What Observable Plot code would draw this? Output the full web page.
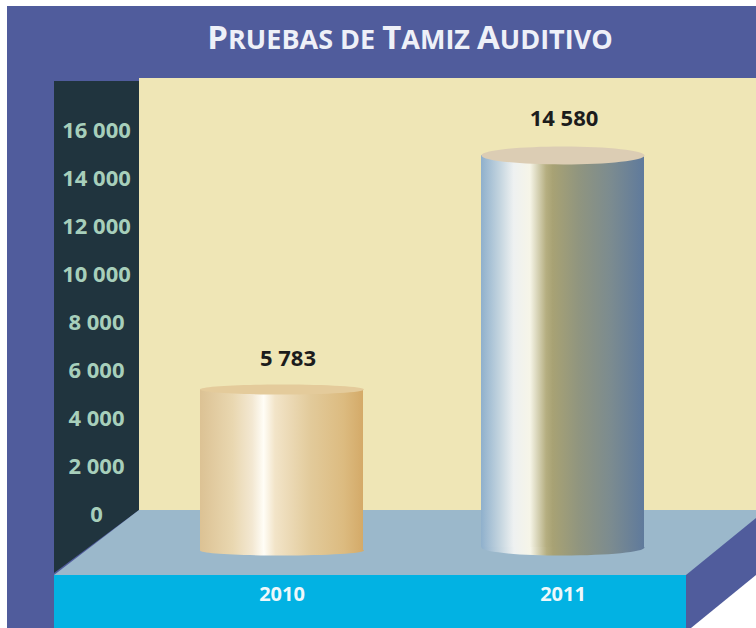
<!DOCTYPE html>
<html lang="es">
<head>
<meta charset="utf-8">
<script src="https://cdn.jsdelivr.net/npm/d3@7"></script>
<script src="https://cdn.jsdelivr.net/npm/@observablehq/plot@0.6"></script>
<style>
  html, body { margin: 0; padding: 0; background: #fff; }
  #chart { position: relative; width: 756px; height: 628px; overflow: hidden; background: #fff; }
  #chart .layer { position: absolute; inset: 0; }
  #chart svg { position: absolute; left: 0; top: 0; }
  .panel { background: #505c9c; clip-path: polygon(7px 6px, 756px 6px, 756px 575px, 691px 628px, 7px 628px); }
  .wall  { background: #efe6b6; clip-path: polygon(139px 78px, 756px 78px, 756px 512px, 139px 512px); }
  .side  { background: #20343e; clip-path: polygon(54px 81px, 139px 81px, 139px 510px, 54px 573px); }
  .floor { background: #9bb8cb; clip-path: polygon(139px 510px, 756px 510px, 756px 518px, 686px 575px, 54px 575px); }
  .front { background: #02b2e3; clip-path: polygon(54px 575px, 686px 575px, 686px 628px, 54px 628px); }
</style>
</head>
<body>
<div id="chart">
  <div class="layer panel"></div>
  <div class="layer wall"></div>
  <div class="layer side"></div>
  <div class="layer floor"></div>
  <div class="layer front"></div>
</div>
<script>
const chartTitle = "Pruebas de Tamiz Auditivo";
const years = ["2010", "2011"];
const values = [5783, 14580];
// Height of each cylinder's top and base as read against the drawn axis
const drawnTops = [5210, 14960];
const drawnBases = [-1500, -1380];
const labelLevels = [6500, 16500];
const yTicks = [0, 2000, 4000, 6000, 8000, 10000, 12000, 14000, 16000];

const fmt = d3.formatLocale({ thousands: " ", grouping: [3], decimal: "," }).format(",");
const font = "'Open Sans', sans-serif";

const gradients = {
  g2010: [[0, "#dcc294"], [0.2, "#e9d7b0"], [0.32, "#f3e8d2"], [0.39, "#fffdf6"], [0.46, "#f2e4c8"], [0.68, "#e2ca9a"], [0.88, "#dcbb80"], [1, "#d4aa68"]],
  g2011: [[0, "#8fb0cc"], [0.12, "#c6d6e0"], [0.2, "#eef1f1"], [0.3, "#f6f5e8"], [0.4, "#b5ae80"], [0.44, "#a8a274"], [0.6, "#90957f"], [0.8, "#7b8b90"], [1, "#5f7a9c"]]
};
const tops = { g2010: "#e4cb9b", g2011: "#dccdb4" };
const radii = { g2010: [82, 5], g2011: [81.5, 9] };
const bottomRadii = { g2010: [82, 5], g2011: [81.5, 8] };

function ellipse(rx, ry) {
  const k = 0.5523;
  return {
    draw(c) {
      c.moveTo(-rx, 0);
      c.bezierCurveTo(-rx, -k * ry, -k * rx, -ry, 0, -ry);
      c.bezierCurveTo(k * rx, -ry, rx, -k * ry, rx, 0);
      c.bezierCurveTo(rx, k * ry, k * rx, ry, 0, ry);
      c.bezierCurveTo(-k * rx, ry, -rx, k * ry, -rx, 0);
      c.closePath();
    }
  };
}

function defs() {
  const d = d3.create("svg:defs");
  for (const [id, stops] of Object.entries(gradients)) {
    const g = d.append("linearGradient").attr("id", id).attr("x1", 0).attr("x2", 1).attr("y1", 0).attr("y2", 0);
    for (const [o, c] of stops) g.append("stop").attr("offset", o).attr("stop-color", c);
  }
  return d.node();
}

// Small caps: capitals stay large, lower-case letters become smaller capitals
function smallCaps(index, scales, channels, dimensions, context, next) {
  const g = next(index, scales, channels, dimensions, context);
  d3.select(g).selectAll("text").each(function () {
    const el = d3.select(this);
    const runs = el.text().match(/[A-Z]+|[^A-Z]+/g);
    el.text(null);
    for (const run of runs) {
      const large = /^[A-Z]/.test(run);
      el.append("tspan").attr("font-size", large ? 33 : 27).text(run.toUpperCase());
    }
  });
  return g;
}

const rows = years.map((year, i) => ({
  year, value: values[i], top: drawnTops[i], base: drawnBases[i], level: labelLevels[i], grad: "g" + year
}));

const cylinderMarks = rows.flatMap((r) => [
  Plot.dot([r], { x: "year", y: "base", r: 1, symbol: ellipse(...bottomRadii[r.grad]), fill: `url(#${r.grad})` }),
  Plot.barY([r], { x: "year", y1: "base", y2: "top", fill: `url(#${r.grad})` }),
  Plot.dot([r], { x: "year", y: "top", r: 1, symbol: ellipse(...radii[r.grad]), fill: tops[r.grad] })
]);

const labelDx = { 2010: 6, 2011: 1 };
const labelMarks = rows.map((r) =>
  Plot.text([r], {
    x: "year", y: "level", text: (d) => fmt(d.value), dx: labelDx[r.year],
    fontFamily: font, fontWeight: 700, fontSize: 22, fill: "#1c1c1c"
  })
);

const plot = Plot.plot({
  width: 756,
  height: 628,
  marginLeft: 140,
  marginRight: 53,
  marginTop: 130,
  marginBottom: 114,
  style: { background: "transparent" },
  x: { type: "band", domain: years, paddingInner: 0.42, paddingOuter: 0.2117, label: null },
  y: { domain: [0, 16000], label: null },
  marks: [
    defs,
    ...cylinderMarks,
    ...labelMarks,
    Plot.axisY({
      anchor: "left", ticks: yTicks, tickFormat: fmt, tickSize: 0, tickPadding: 0, dx: -44,
      textAnchor: "middle", label: null, fontFamily: font, fontWeight: 700, fontSize: 22, fill: "#a7cfbb"
    }),
    Plot.axisX({
      anchor: "bottom", tickSize: 0, tickPadding: 0, dy: 80, label: null,
      fontFamily: font, fontWeight: 700, fontSize: 20, fill: "#eef8fb", lineAnchor: "middle"
    }),
    Plot.text([chartTitle], {
      frameAnchor: "top", dx: -12, dy: -90, lineAnchor: "middle", text: (d) => d,
      fontFamily: font, fontWeight: 700, fontSize: 28, fill: "#eef0f8", render: smallCaps
    })
  ]
});
document.getElementById("chart").appendChild(plot);
</script>
</body>
</html>
